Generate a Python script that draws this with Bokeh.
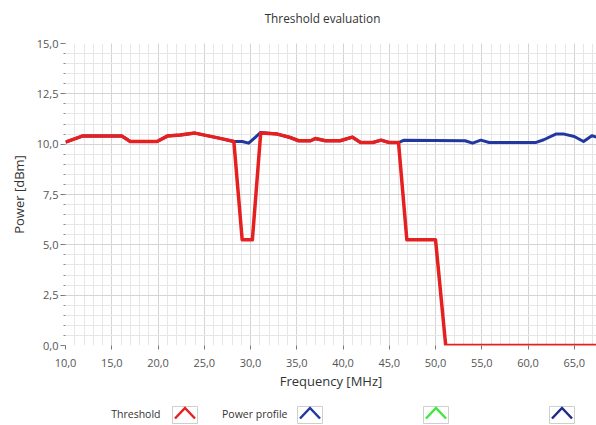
from bokeh.plotting import figure
from bokeh.layouts import column
from bokeh.models import FixedTicker, CustomJSTickFormatter, Range1d
from bokeh.core.properties import value
from bokeh.embed import file_html
from bokeh.resources import INLINE

# ---------------- data ----------------
threshold_freq = [10.0, 11.8, 16.1, 17.0, 19.9, 21.0, 22.4, 24.0, 26.6, 28.2, 29.1, 30.2,
                  31.1, 32.9, 34.3, 35.2, 36.5, 37.0, 38.1, 39.7, 41.0, 41.9, 43.2, 44.1,
                  45.0, 46.0, 46.9, 50.0, 51.1, 67.5]
threshold_power = [10.1, 10.4, 10.4, 10.13, 10.13, 10.4, 10.46, 10.55, 10.3, 10.13, 5.25, 5.25,
                   10.55, 10.5, 10.33, 10.17, 10.17, 10.28, 10.17, 10.17, 10.35, 10.08, 10.08, 10.2,
                   10.08, 10.08, 5.25, 5.25, 0.0, 0.0]

profile_freq = [10.0, 11.8, 16.1, 17.0, 19.9, 21.0, 22.4, 24.0, 26.6, 28.2, 29.1, 29.8,
                31.1, 32.9, 34.3, 35.2, 36.5, 37.0, 38.1, 39.7, 41.0, 41.9, 43.2, 44.1,
                45.0, 46.0, 46.6, 53.2, 54.0, 54.9, 55.8, 60.8, 61.7, 63.0, 63.9, 65.0,
                66.0, 66.9, 67.4]
profile_power = [10.1, 10.4, 10.4, 10.13, 10.13, 10.4, 10.46, 10.55, 10.3, 10.13, 10.13, 10.05,
                 10.58, 10.5, 10.33, 10.17, 10.17, 10.28, 10.17, 10.17, 10.35, 10.08, 10.08, 10.2,
                 10.08, 10.08, 10.2, 10.17, 10.05, 10.2, 10.08, 10.08, 10.22, 10.5, 10.5, 10.38,
                 10.13, 10.42, 10.35]

x_major_ticks = [10, 15, 20, 25, 30, 35, 40, 45, 50, 55, 60, 65]
x_minor_ticks = list(range(10, 68))
y_major_ticks = [0, 2.5, 5, 7.5, 10, 12.5, 15]
y_minor_ticks = [i * 0.5 for i in range(0, 31)]

legend_labels = ["Threshold", "Power profile", "", ""]
legend_colors = ["#e62020", "#2238a0", "#3ee83e", "#1c2a8c"]
title_text = "Threshold evaluation"

FONT = "Open Sans"
RED = legend_colors[0]
BLUE = legend_colors[1]
FRAME_LEFT = 65
PAGE_W = 596


def blank_strip(h):
    # column layouts align frames, so the strip's frame spans FRAME_LEFT..PAGE_W
    f = figure(width=PAGE_W, height=h, output_backend="svg", toolbar_location=None,
               x_range=Range1d(FRAME_LEFT, PAGE_W), y_range=Range1d(0, h),
               min_border=0, min_border_left=0, min_border_right=0,
               min_border_top=0, min_border_bottom=0)
    f.axis.visible = False
    f.grid.visible = False
    f.outline_line_color = None
    return f


# ---------------- title strip ----------------
tt = blank_strip(30)
tt.text([322], [13], text=[title_text], text_align="center", text_baseline="middle",
        text_font=value(FONT), text_font_size="11.8px", text_color="#333333")

# ---------------- main plot ----------------
p = figure(width=PAGE_W, height=370, output_backend="svg", toolbar_location=None,
           x_range=Range1d(10, 67.4), y_range=Range1d(0, 15),
           min_border_left=FRAME_LEFT, min_border_right=0, min_border_top=13,
           min_border_bottom=55)
p.outline_line_color = None
p.background_fill_color = "white"
p.border_fill_color = "white"

fmt = CustomJSTickFormatter(code="return tick.toFixed(1).replace('.', ',');")

xa = p.xaxis[0]
xa.ticker = FixedTicker(ticks=x_major_ticks, minor_ticks=x_minor_ticks)
xa.formatter = fmt
xa.axis_label = "Frequency [MHz]"
ya = p.yaxis[0]
ya.ticker = FixedTicker(ticks=y_major_ticks, minor_ticks=y_minor_ticks)
ya.formatter = fmt
ya.axis_label = "Power [dBm]"

for ax in (xa, ya):
    ax.axis_line_color = None
    ax.major_tick_line_color = "#777777"
    ax.minor_tick_line_color = "#888888"
    ax.major_label_text_font = FONT
    ax.major_label_text_font_size = "11px"
    ax.major_label_text_color = "#555555"
    ax.axis_label_text_font = FONT
    ax.axis_label_text_font_size = "13px"
    ax.axis_label_text_font_style = "normal"
    ax.axis_label_text_color = "#333333"

xa.major_tick_out = 4
xa.major_tick_in = 0
xa.minor_tick_out = 0
xa.minor_tick_in = 0
xa.major_label_standoff = 9
xa.axis_label_standoff = 2
ya.major_tick_out = 5
ya.major_tick_in = 0
ya.minor_tick_out = 2
ya.minor_tick_in = 0
ya.major_label_standoff = 2
ya.axis_label_standoff = 6

for g in (p.xgrid[0], p.ygrid[0]):
    g.grid_line_color = "#d4d4d4"
    g.grid_line_width = 1
    g.minor_grid_line_color = "#e6e6e6"
    g.minor_grid_line_width = 1

p.line(profile_freq, profile_power, line_color=BLUE, line_width=3, line_join="round")
p.line(threshold_freq, threshold_power, line_color=RED, line_width=3.5, line_join="round")

# ---------------- legend strip ----------------
lg = blank_strip(25)
icon_left = [172, 297, 423, 549]
text_right = [160, 287, 0, 0]
box_w, box_top, box_bot = 25, 19, 2
for i, (lab, col) in enumerate(zip(legend_labels, legend_colors)):
    x0 = icon_left[i]
    lg.quad(left=[x0], right=[x0 + box_w], bottom=[box_bot], top=[box_top],
            fill_color="white", line_color="#cfcfcf", line_width=1)
    lg.line([x0 + 2.5, x0 + box_w / 2, x0 + box_w - 2.5], [7, 17.5, 7],
            line_color=col, line_width=2.5, line_join="miter")
    if lab:
        lg.text([text_right[i]], [12], text=[lab], text_align="right",
                text_baseline="middle", text_font=value(FONT),
                text_font_size="10.5px", text_color="#333333")

layout = column(tt, p, lg, spacing=0)
open("out.html", "w").write(file_html(layout, INLINE))
